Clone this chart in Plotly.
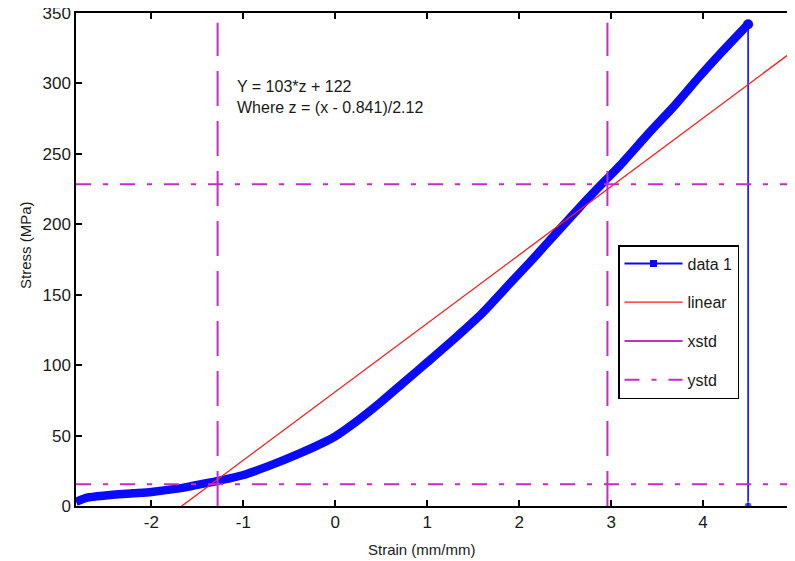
import plotly.graph_objects as go

strain = [-2.82, -2.7, -2.5, -2.2, -2.0, -1.7, -1.5, -1.3, -1.0, -0.7, -0.4, -0.13,
          0.0, 0.25, 0.5, 0.75, 1.0, 1.3, 1.6, 1.9, 2.13, 2.42, 2.7, 2.92, 3.1,
          3.4, 3.7, 3.95, 4.2, 4.49]
stress = [3, 6, 7.5, 9, 10, 12.5, 15, 17.5, 22, 29, 37, 45,
          49.5, 61, 74, 88, 102, 119, 137, 158, 174, 195, 215, 230, 242,
          264, 285, 304, 322, 342]
drop_x = [4.49, 4.49]
drop_y = [342, 0]

# Linear fit line endpoints
linear_x = [-1.67, 5.0]
linear_y = [0, 324]

# Standard-deviation guide lines
xstd_vals = [-1.28, 2.96]
xstd_span = [0, 343]
ystd_vals = [15.5, 228.5]
ystd_span = [-2.82, 5.0]

x_ticks = [-2, -1, 0, 1, 2, 3, 4, 5]
x_tick_text = ["-2", "-1", "0", "1", "2", "3", "4", "5"]
y_ticks = [0, 50, 100, 150, 200, 250, 300, 350]

BLUE = "#0a0aff"
RED = "#ff1a1a"
MAG = "#c42cc4"
FONT = "Liberation Sans, Arial, sans-serif"
TXT = "#1a1a1a"

fig = go.Figure()

fig.add_trace(go.Scatter(x=strain, y=stress, mode="lines",
                         line=dict(color=BLUE, width=8.5, shape="spline", smoothing=0.6),
                         showlegend=False, hoverinfo="skip"))
fig.add_trace(go.Scatter(x=strain[-1:], y=stress[-1:], mode="markers",
                         marker=dict(color=BLUE, size=10), showlegend=False))
fig.add_trace(go.Scatter(x=drop_x, y=drop_y, mode="lines+markers",
                         line=dict(color=BLUE, width=1.6),
                         marker=dict(color=BLUE, size=[0, 8]), showlegend=False))
# legend entry for data 1
fig.add_trace(go.Scatter(x=[None], y=[None], mode="lines+markers", name="data 1",
                         line=dict(color=BLUE, width=2), marker=dict(symbol="square", size=7, color=BLUE),
                         legendgroup="a"))
fig.add_trace(go.Scatter(x=linear_x, y=linear_y, mode="lines", name="linear",
                         line=dict(color=RED, width=1.3), legendgroup="b"))
for xv in xstd_vals:
    fig.add_trace(go.Scatter(x=[xv, xv], y=xstd_span, mode="lines", name="xstd",
                             line=dict(color=MAG, width=2, dash="35px,15px"),
                             showlegend=False, legendgroup="c"))
fig.add_trace(go.Scatter(x=[None], y=[None], mode="lines", name="xstd",
                         line=dict(color=MAG, width=2), legendgroup="c"))
for i, yv in enumerate(ystd_vals):
    fig.add_trace(go.Scatter(x=ystd_span, y=[yv, yv], mode="lines", name="ystd",
                             line=dict(color=MAG, width=2, dash="15px,12px,5px,12px"),
                             showlegend=(i == 0), legendgroup="d"))

axis_common = dict(showgrid=False, zeroline=False, showline=True, linecolor="black", linewidth=1.5,
                   mirror="ticks", ticks="inside", ticklen=6, tickcolor="black", tickwidth=1.5,
                   automargin=False, ticklabeloverflow="allow",
                   tickfont=dict(family=FONT, size=17, color=TXT))

# page body adds an 8px offset; compensate so the plot lands where the reference has it
OFF = 8
W, H = 795, 561
L, T = 76 - OFF, 13 - OFF
plot_right, plot_bottom = 795 - OFF, 506 - OFF
R, B = W - plot_right, H - plot_bottom
pw, ph = plot_right - L, plot_bottom - T


def px(xp):
    return (xp - OFF - L) / pw


def py(yp):
    return (plot_bottom - (yp - OFF)) / ph


fig.update_layout(
    width=W, height=H,
    margin=dict(l=L, r=R, t=T, b=B, autoexpand=False),
    plot_bgcolor="white", paper_bgcolor="white",
    xaxis=dict(range=[-2.82, 5.0], tickvals=x_ticks, ticktext=x_tick_text, **axis_common),
    yaxis=dict(range=[0, 350], tickvals=y_ticks, **axis_common),
    legend=dict(x=px(618), y=py(245), xanchor="left", yanchor="top",
                bordercolor="black", borderwidth=1.5, bgcolor="white",
                font=dict(family=FONT, size=16, color=TXT),
                tracegroupgap=15, itemwidth=58),
    annotations=[
        dict(x=-1.09, y=305, xref="x", yref="y", xanchor="left", yanchor="top", showarrow=False,
             align="left", text="Y = 103*z + 122<br>Where z = (x - 0.841)/2.12",
             font=dict(family=FONT, size=16, color=TXT)),
        dict(x=px(422), y=py(549), xref="paper", yref="paper", showarrow=False,
             xanchor="center", yanchor="middle",
             text="Strain (mm/mm)", font=dict(family=FONT, size=15, color=TXT)),
        dict(x=px(25), y=py(245), xref="paper", yref="paper", showarrow=False,
             xanchor="center", yanchor="middle",
             textangle=-90, text="Stress (MPa)", font=dict(family=FONT, size=15, color=TXT)),
    ],
)

fig.write_html("out.html")
